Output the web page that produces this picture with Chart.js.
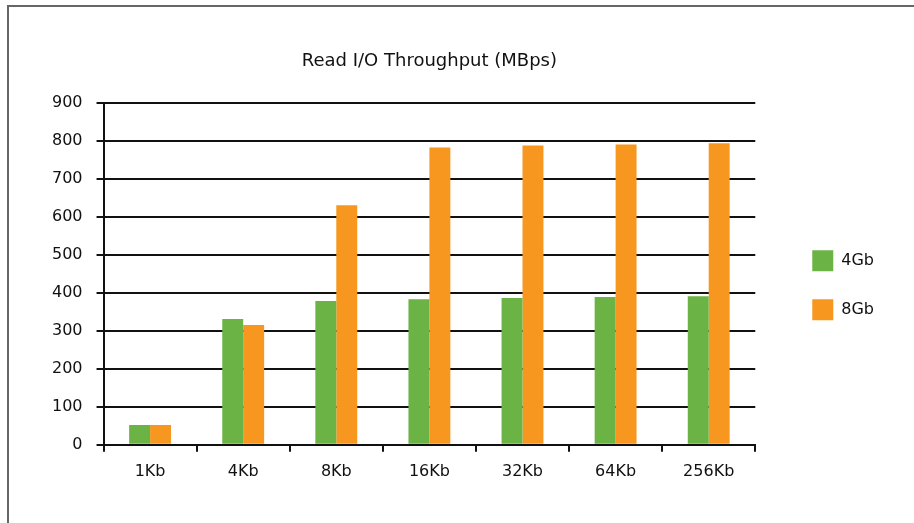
<!DOCTYPE html>
<html>
<head>
<meta charset="utf-8">
<script src="https://cdn.jsdelivr.net/npm/chart.js@4/dist/chart.umd.min.js"></script>
<style>
  html, body { margin: 0; padding: 0; background: #fff; }
  #wrap { position: relative; width: 914px; height: 523px; }
  #frame { position: absolute; left: 7px; top: 5px; right: 0; bottom: 0;
           border-top: 2px solid #666; border-left: 2px solid #666; }
  canvas { position: absolute; left: 0; top: 0; }
</style>
</head>
<body>
<div id="wrap">
  <div id="frame"></div>
  <canvas id="chart" width="914" height="523"></canvas>
</div>
<script>
// ==================== DATA ====================
const categories = ["1Kb", "4Kb", "8Kb", "16Kb", "32Kb", "64Kb", "256Kb"];
const seriesNames = ["4Gb", "8Gb"];
const values4Gb = [52, 331, 378, 383, 386, 389, 391];
const values8Gb = [52, 315, 630, 782, 787, 790, 793];
const yTicks = [0, 100, 200, 300, 400, 500, 600, 700, 800, 900];

const GREEN = "#6bb345";
const ORANGE = "#f7971f";
const FONT = "'DejaVu Sans', sans-serif";

// ==================== CHART ====================
Chart.defaults.font.family = FONT;
Chart.defaults.color = "#111";

const ctx = document.getElementById("chart").getContext("2d");
new Chart(ctx, {
  type: "bar",
  data: {
    labels: categories,
    datasets: [
      { label: seriesNames[0], data: values4Gb, backgroundColor: GREEN,
        barPercentage: 1, categoryPercentage: 0.45 },
      { label: seriesNames[1], data: values8Gb, backgroundColor: ORANGE,
        barPercentage: 1, categoryPercentage: 0.45 }
    ]
  },
  options: {
    responsive: false,
    animation: false,
    layout: { padding: { left: 38, right: 30, top: 51, bottom: 32 } },
    plugins: {
      title: {
        display: true,
        fullSize: false, // centre over the plot, not the canvas
        text: "Read I/O Throughput (MBps)",
        font: { size: 18, weight: "normal" },
        color: "#111",
        padding: { top: 0, bottom: 30 }
      },
      legend: {
        position: "right",
        align: "center",
        title: { display: true, text: " ", font: { size: 12 }, padding: 7 },
        labels: {
          boxWidth: 21,
          boxHeight: 21,
          padding: 28,
          font: { size: 16 },
          color: "#111"
        }
      },
      tooltip: { enabled: false }
    },
    scales: {
      y: {
        min: 0,
        max: 900,
        afterBuildTicks: axis => { axis.ticks = yTicks.map(v => ({ value: v })); },
        ticks: { font: { size: 16 }, color: "#111", padding: 14 },
        grid: { color: "#111", lineWidth: 2, tickLength: 7 },
        border: { color: "#111", width: 2 }
      },
      // empty spacer between plot and legend
      gap: {
        type: "linear",
        position: "right",
        display: true,
        grid: { display: false },
        border: { display: false },
        ticks: { display: false },
        afterFit: axis => { axis.width = 29; }
      },
      x: {
        ticks: { font: { size: 16 }, color: "#111", padding: 10 },
        grid: { display: true, drawOnChartArea: false, color: "#111", lineWidth: 2, tickLength: 7 },
        border: { color: "#111", width: 2 }
      }
    }
  }
});
</script>
</body>
</html>
